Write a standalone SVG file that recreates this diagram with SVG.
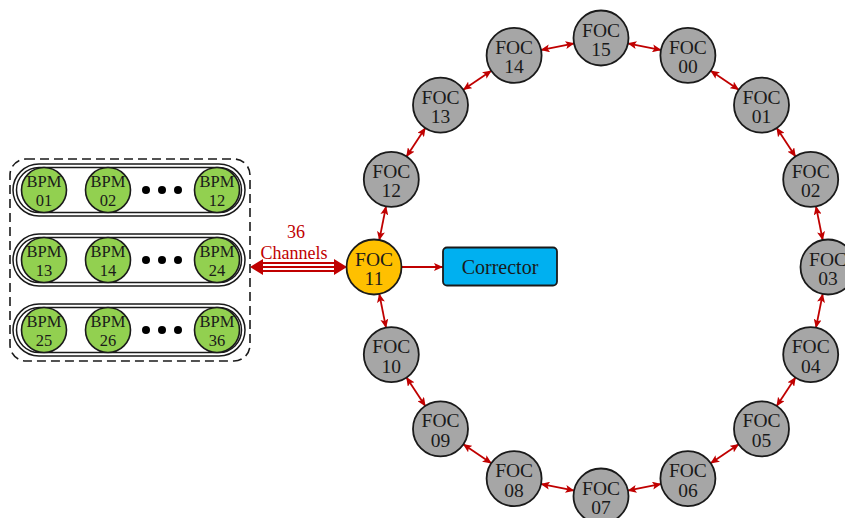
<svg xmlns="http://www.w3.org/2000/svg" width="845" height="518" viewBox="0 0 845 518">
<defs>
<style>
.foc{fill:#a6a6a6;stroke:#1a1a1a;stroke-width:1.8}
.foc11{fill:#ffc000;stroke:#1a1a1a;stroke-width:1.8}
.bpm{fill:#92d050;stroke:#1a1a1a;stroke-width:1.6}
.t{font-family:"Liberation Serif","Times New Roman",serif;font-size:19.5px;fill:#1a1a1a;text-anchor:middle}
.tb{font-family:"Liberation Serif","Times New Roman",serif;font-size:16.5px;fill:#1a1a1a;text-anchor:middle}
.pill{fill:none;stroke:#1a1a1a;stroke-width:1.5}
.dot{fill:#000}
.red{font-family:"Liberation Serif","Times New Roman",serif;font-size:18px;fill:#c00000;text-anchor:middle}
.link{stroke:#c00000;stroke-width:1.8;fill:none;marker-start:url(#ah);marker-end:url(#ah)}
</style>
<marker id="ah" markerUnits="userSpaceOnUse" markerWidth="9" markerHeight="8" refX="9" refY="4" orient="auto-start-reverse" viewBox="0 0 9 8">
<path d="M0,0 L9,4 L0,8 L2,4 z" fill="#c00000"/>
</marker>
<marker id="ah1" markerUnits="userSpaceOnUse" markerWidth="9" markerHeight="8" refX="9" refY="4" orient="auto" viewBox="0 0 9 8">
<path d="M0,0 L9,4 L0,8 L2,4 z" fill="#c00000"/>
</marker>
</defs>
<rect width="845" height="518" fill="#fff"/>

<g id="bpm-group">
<rect x="10" y="159" width="240" height="202" rx="16" fill="none" stroke="#1a1a1a" stroke-width="1.6" stroke-dasharray="9,5"/>
<g id="row1">
<rect class="pill" x="13" y="164" width="232" height="52" rx="26"/>
<rect class="pill" x="16.5" y="167.5" width="225" height="45" rx="22.5"/>
</g>
<g id="row2">
<rect class="pill" x="13" y="234" width="232" height="52" rx="26"/>
<rect class="pill" x="16.5" y="237.5" width="225" height="45" rx="22.5"/>
</g>
<g id="row3">
<rect class="pill" x="13" y="304" width="232" height="52" rx="26"/>
<rect class="pill" x="16.5" y="307.5" width="225" height="45" rx="22.5"/>
</g>
<g id="bpm01"><circle class="bpm" cx="44" cy="190" r="22.5"/><text class="tb" x="44" y="187">BPM</text><text class="tb" x="44" y="206">01</text></g>
<g id="bpm02"><circle class="bpm" cx="108" cy="190" r="22.5"/><text class="tb" x="108" y="187">BPM</text><text class="tb" x="108" y="206">02</text></g>
<g id="bpm12"><circle class="bpm" cx="217" cy="190" r="22.5"/><text class="tb" x="217" y="187">BPM</text><text class="tb" x="217" y="206">12</text></g>
<g id="bpm13"><circle class="bpm" cx="44" cy="260" r="22.5"/><text class="tb" x="44" y="257">BPM</text><text class="tb" x="44" y="276">13</text></g>
<g id="bpm14"><circle class="bpm" cx="108" cy="260" r="22.5"/><text class="tb" x="108" y="257">BPM</text><text class="tb" x="108" y="276">14</text></g>
<g id="bpm24"><circle class="bpm" cx="217" cy="260" r="22.5"/><text class="tb" x="217" y="257">BPM</text><text class="tb" x="217" y="276">24</text></g>
<g id="bpm25"><circle class="bpm" cx="44" cy="330" r="22.5"/><text class="tb" x="44" y="327">BPM</text><text class="tb" x="44" y="346">25</text></g>
<g id="bpm26"><circle class="bpm" cx="108" cy="330" r="22.5"/><text class="tb" x="108" y="327">BPM</text><text class="tb" x="108" y="346">26</text></g>
<g id="bpm36"><circle class="bpm" cx="217" cy="330" r="22.5"/><text class="tb" x="217" y="327">BPM</text><text class="tb" x="217" y="346">36</text></g>
<g id="dots">
<circle class="dot" cx="146" cy="190" r="4"/><circle class="dot" cx="162" cy="190" r="4"/><circle class="dot" cx="178" cy="190" r="4"/>
<circle class="dot" cx="146" cy="260" r="4"/><circle class="dot" cx="162" cy="260" r="4"/><circle class="dot" cx="178" cy="260" r="4"/>
<circle class="dot" cx="146" cy="330" r="4"/><circle class="dot" cx="162" cy="330" r="4"/><circle class="dot" cx="178" cy="330" r="4"/>
</g>
</g>

<g id="connectors">
<g id="channels-arrow">
<line x1="260" y1="267" x2="337" y2="267" stroke="#c00000" stroke-width="10"/>
<line x1="258" y1="267" x2="339" y2="267" stroke="#fff" stroke-width="6"/>
<line x1="258" y1="267" x2="339" y2="267" stroke="#c00000" stroke-width="2"/>
<polygon points="250,267 263,259 263,275" fill="#c00000"/>
<polygon points="347,267 334,259 334,275" fill="#c00000"/>
<text class="red" x="296" y="238">36</text>
<text class="red" x="294" y="259">Channels</text>
</g>
<line x1="401" y1="267" x2="443" y2="267" stroke="#c00000" stroke-width="1.8" marker-end="url(#ah1)"/>
<line class="link" x1="627.5" y1="43.3" x2="661.4" y2="50.1"/>
<line class="link" x1="710.3" y1="70.5" x2="739.1" y2="90.0"/>
<line class="link" x1="776.4" y1="127.6" x2="795.8" y2="156.9"/>
<line class="link" x1="815.9" y1="205.9" x2="822.8" y2="240.5"/>
<line class="link" x1="822.8" y1="293.5" x2="815.9" y2="328.1"/>
<line class="link" x1="795.8" y1="377.1" x2="776.4" y2="406.4"/>
<line class="link" x1="739.1" y1="444.0" x2="710.3" y2="463.5"/>
<line class="link" x1="661.4" y1="483.9" x2="627.5" y2="490.7"/>
<line class="link" x1="574.5" y1="43.3" x2="540.6" y2="50.1"/>
<line class="link" x1="491.7" y1="70.5" x2="462.9" y2="90.0"/>
<line class="link" x1="425.6" y1="127.6" x2="406.2" y2="156.9"/>
<line class="link" x1="386.1" y1="205.9" x2="379.2" y2="240.5"/>
<line class="link" x1="379.2" y1="293.5" x2="386.1" y2="328.1"/>
<line class="link" x1="406.2" y1="377.1" x2="425.6" y2="406.4"/>
<line class="link" x1="462.9" y1="444.0" x2="491.7" y2="463.5"/>
<line class="link" x1="540.6" y1="483.9" x2="574.5" y2="490.7"/>
</g>

<g id="corrector">
<rect x="443" y="247.5" width="114" height="38" rx="4" fill="#00b0f0" stroke="#1a1a1a" stroke-width="1.8"/>
<text class="t" x="500" y="273.5" style="font-size:20px">Corrector</text>
</g>

<g id="foc15"><circle class="foc" cx="601" cy="38" r="27.5"/><text class="t" x="601" y="36.5">FOC</text><text class="t" x="601" y="56">15</text></g>
<g id="foc00"><circle class="foc" cx="687.9" cy="55.4" r="27.5"/><text class="t" x="687.9" y="53.9">FOC</text><text class="t" x="687.9" y="73.4">00</text></g>
<g id="foc01"><circle class="foc" cx="761.5" cy="105.1" r="27.5"/><text class="t" x="761.5" y="103.6">FOC</text><text class="t" x="761.5" y="123.1">01</text></g>
<g id="foc02"><circle class="foc" cx="810.7" cy="179.4" r="27.5"/><text class="t" x="810.7" y="177.9">FOC</text><text class="t" x="810.7" y="197.4">02</text></g>
<g id="foc03"><circle class="foc" cx="828" cy="267" r="27.5"/><text class="t" x="828" y="265.5">FOC</text><text class="t" x="828" y="285">03</text></g>
<g id="foc04"><circle class="foc" cx="810.7" cy="354.6" r="27.5"/><text class="t" x="810.7" y="353.1">FOC</text><text class="t" x="810.7" y="372.6">04</text></g>
<g id="foc05"><circle class="foc" cx="761.5" cy="428.9" r="27.5"/><text class="t" x="761.5" y="427.4">FOC</text><text class="t" x="761.5" y="446.9">05</text></g>
<g id="foc06"><circle class="foc" cx="687.9" cy="478.6" r="27.5"/><text class="t" x="687.9" y="477.1">FOC</text><text class="t" x="687.9" y="496.6">06</text></g>
<g id="foc07"><circle class="foc" cx="601" cy="496" r="27.5"/><text class="t" x="601" y="494.5">FOC</text><text class="t" x="601" y="514">07</text></g>
<g id="foc08"><circle class="foc" cx="514.1" cy="478.6" r="27.5"/><text class="t" x="514.1" y="477.1">FOC</text><text class="t" x="514.1" y="496.6">08</text></g>
<g id="foc09"><circle class="foc" cx="440.5" cy="428.9" r="27.5"/><text class="t" x="440.5" y="427.4">FOC</text><text class="t" x="440.5" y="446.9">09</text></g>
<g id="foc10"><circle class="foc" cx="391.3" cy="354.6" r="27.5"/><text class="t" x="391.3" y="353.1">FOC</text><text class="t" x="391.3" y="372.6">10</text></g>
<g id="foc11"><circle class="foc11" cx="374" cy="267" r="27.5"/><text class="t" x="374" y="265.5">FOC</text><text class="t" x="374" y="285">11</text></g>
<g id="foc12"><circle class="foc" cx="391.3" cy="179.4" r="27.5"/><text class="t" x="391.3" y="177.9">FOC</text><text class="t" x="391.3" y="197.4">12</text></g>
<g id="foc13"><circle class="foc" cx="440.5" cy="105.1" r="27.5"/><text class="t" x="440.5" y="103.6">FOC</text><text class="t" x="440.5" y="123.1">13</text></g>
<g id="foc14"><circle class="foc" cx="514.1" cy="55.4" r="27.5"/><text class="t" x="514.1" y="53.9">FOC</text><text class="t" x="514.1" y="73.4">14</text></g>
</svg>
